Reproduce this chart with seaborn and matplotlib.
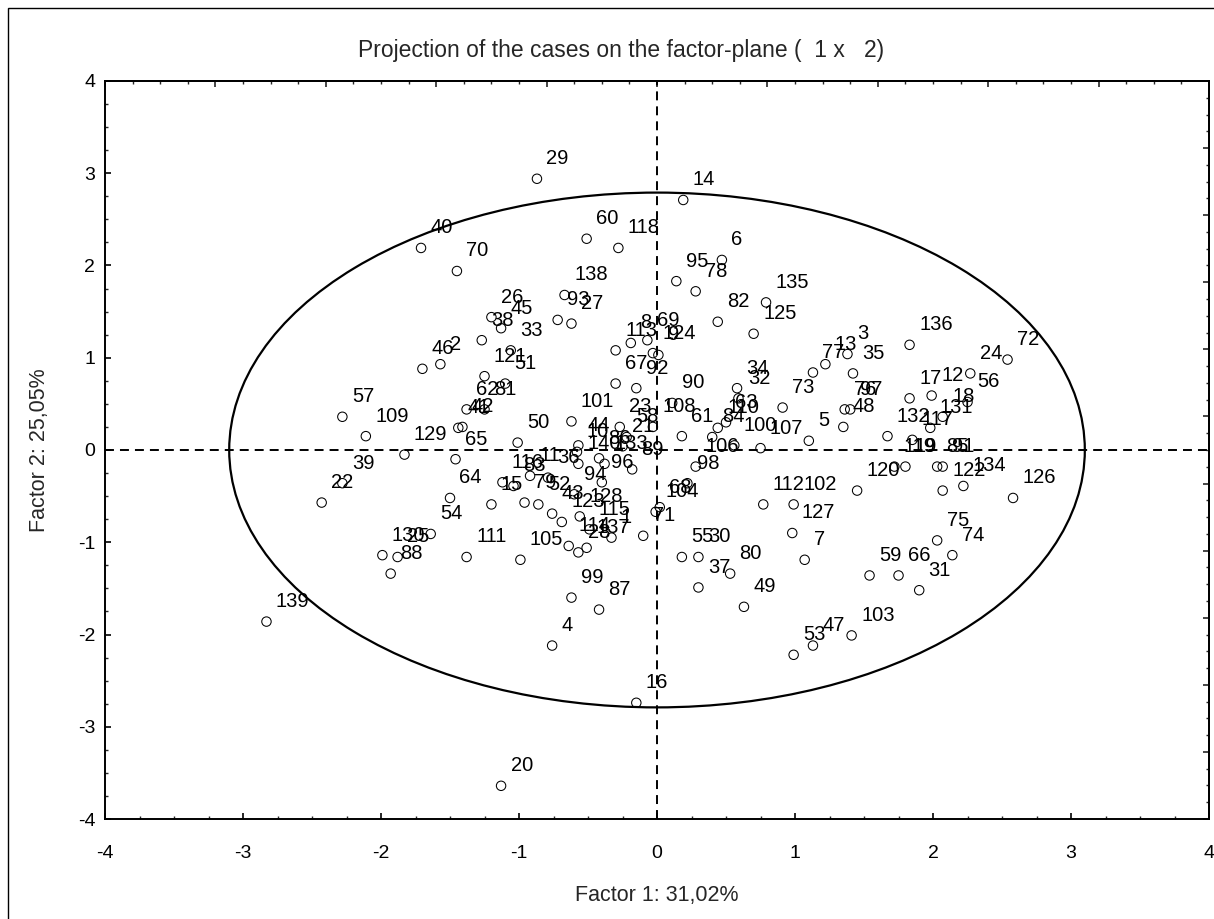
import matplotlib
matplotlib.use("Agg")
import matplotlib.pyplot as plt
import seaborn as sns
import pandas as pd
import numpy as np
from matplotlib.patches import Ellipse, Rectangle
from matplotlib.ticker import FixedLocator

# ---------------- data ----------------
case_labels = [
    "1", "2", "3", "4", "5", "6", "7", "8", "9", "10",
    "11", "12", "13", "14", "15", "16", "17", "18", "19", "20",
    "21", "22", "23", "24", "25", "26", "27", "28", "29", "30",
    "31", "32", "33", "34", "35", "36", "37", "38", "39", "40",
    "41", "42", "43", "44", "45", "46", "47", "48", "49", "50",
    "51", "52", "53", "54", "55", "56", "57", "58", "59", "60",
    "61", "62", "63", "64", "65", "66", "67", "68", "69", "70",
    "71", "72", "73", "74", "75", "76", "77", "78", "79", "80",
    "81", "82", "83", "84", "85", "86", "87", "88", "89", "90",
    "91", "92", "93", "94", "95", "96", "97", "98", "99", "100",
    "101", "102", "103", "104", "105", "106", "107", "108", "109", "110",
    "111", "112", "113", "114", "115", "116", "117", "118", "119", "120",
    "121", "122", "123", "124", "125", "126", "127", "128", "129", "130",
    "131", "132", "133", "134", "135", "136", "137", "138", "139", "140",
]

factor1 = [
    -0.33, -1.57, 1.38, -0.76, 1.10, 0.47, 1.07, -0.19, 0.01, -0.58,
    -0.92, 1.99, 1.22, 0.19, -1.20, -0.15, 1.83, 2.07, 1.80, -1.13,
    -0.25, -2.43, -0.27, 2.27, -1.88, -1.20, -0.62, -0.57, -0.87, 0.30,
    1.90, 0.59, -1.06, 0.58, 1.42, -0.79, 0.30, -1.27, -2.28, -1.71,
    -1.44, -1.41, -0.76, -0.57, -1.13, -1.70, 1.13, 1.35, 0.63, -1.01,
    -1.10, -0.86, 0.99, -1.64, 0.18, 2.25, -2.28, -0.22, 1.54, -0.51,
    0.18, -1.38, 0.50, -1.50, -1.46, 1.75, -0.30, 0.02, -0.07, -1.45,
    -0.10, 2.54, 0.91, 2.14, 2.03, 1.36, 1.13, 0.28, -0.96, 0.53,
    -1.25, 0.44, -1.04, 0.40, 2.03, -0.42, -0.42, -1.93, -0.18, 0.11,
    2.07, -0.15, -0.72, -0.60, 0.14, -0.40, 1.40, 0.22, -0.62, 0.56,
    -0.62, 0.99, 1.41, -0.01, -0.99, 0.28, 0.75, -0.03, -2.11, 0.44,
    -1.38, 0.77, -0.30, -0.64, -0.49, -1.12, 1.85, -0.28, 1.72, 1.45,
    -1.25, 2.07, -0.69, -0.03, 0.70, 2.58, 0.98, -0.56, -1.83, -1.99,
    1.98, 1.67, -0.38, 2.22, 0.79, 1.83, -0.51, -0.67, -2.83, -0.57,
]

factor2 = [
    -0.95, 0.93, 1.04, -2.12, 0.10, 2.06, -1.19, 1.16, 1.03, -0.02,
    -0.28, 0.59, 0.93, 2.71, -0.59, -2.74, 0.56, 0.36, -0.18, -3.64,
    0.04, -0.57, 0.25, 0.83, -1.16, 1.44, 1.37, -1.11, 2.94, -1.16,
    -1.52, 0.56, 1.08, 0.67, 0.83, -0.30, -1.49, 1.19, -0.36, 2.19,
    0.24, 0.25, -0.69, 0.05, 1.32, 0.88, -2.12, 0.25, -1.70, 0.08,
    0.72, -0.59, -2.22, -0.91, -1.16, 0.52, 0.36, 0.14, -1.36, 2.29,
    0.15, 0.44, 0.30, -0.52, -0.10, -1.36, 0.72, -0.62, 1.19, 1.94,
    -0.93, 0.98, 0.46, -1.14, -0.98, 0.44, 0.84, 1.72, -0.57, -1.34,
    0.44, 1.39, -0.39, 0.14, -0.18, -0.09, -1.73, -1.34, -0.21, 0.51,
    -0.18, 0.67, 1.41, -0.48, 1.83, -0.35, 0.44, -0.36, -1.60, 0.05,
    0.31, -0.59, -2.01, -0.67, -1.19, -0.18, 0.02, 0.25, 0.15, 0.24,
    -1.16, -0.59, 1.08, -1.04, -0.86, -0.35, 0.11, 2.19, -0.18, -0.44,
    0.80, -0.44, -0.78, 1.05, 1.26, -0.52, -0.90, -0.72, -0.05, -1.14,
    0.24, 0.15, -0.15, -0.39, 1.60, 1.14, -1.06, 1.68, -1.86, -0.15,
]

title_text = "Projection of the cases on the factor-plane (  1 x   2)"
x_label = "Factor 1: 31,02%"
y_label = "Factor 2: 25,05%"
x_tick_values = [-4, -3, -2, -1, 0, 1, 2, 3, 4]
y_tick_values = [-4, -3, -2, -1, 0, 1, 2, 3, 4]
ellipse_half_width = 3.10
ellipse_half_height = 2.79

# ---------------- style ----------------
sns.set_style("ticks")
plt.rcParams["font.family"] = ["Liberation Sans", "DejaVu Sans"]

fig = plt.figure(figsize=(12.14, 9.19), dpi=100)
fig.patch.set_facecolor("white")
ax = fig.add_axes([0.0865, 0.1088, 0.9094, 0.8031])

df = pd.DataFrame({"case": case_labels, "f1": factor1, "f2": factor2})

# reference lines and ellipse
ax.axhline(0, color="black", lw=1.4, ls=(0, (4.6, 3.1)), zorder=1)
ax.axvline(0, color="black", lw=1.4, ls=(0, (4.6, 3.1)), zorder=1)
ax.add_patch(Ellipse((0, 0), 2 * ellipse_half_width, 2 * ellipse_half_height,
                     fill=False, edgecolor="black", lw=1.6, zorder=2))

sns.scatterplot(data=df, x="f1", y="f2", ax=ax, marker="o", s=46,
                facecolor="none", edgecolor="black", linewidth=0.75,
                legend=False, zorder=3)

for lab, xv, yv in zip(df["case"], df["f1"], df["f2"]):
    ax.annotate(lab, (xv, yv), xytext=(6.8, 10.5), textcoords="offset points",
                fontsize=14.5, ha="left", va="baseline", color="black", zorder=4)

ax.set_xlim(-4, 4)
ax.set_ylim(-4, 4)
ax.set_xticks(x_tick_values)
ax.set_yticks(y_tick_values)
ax.set_xticklabels([str(v) for v in x_tick_values])
ax.set_yticklabels([str(v) for v in y_tick_values])
ax.xaxis.set_minor_locator(FixedLocator(np.arange(-4, 4.001, 0.25)))
ax.yaxis.set_minor_locator(FixedLocator(np.arange(-4, 4.001, 0.25)))
ax.tick_params(axis="both", which="major", direction="in", length=4.2, width=1.2,
               labelsize=14, colors="black")
ax.tick_params(axis="both", which="minor", direction="in", length=2.2, width=1.0)
ax.tick_params(axis="x", which="major", pad=19)
ax.tick_params(axis="y", which="major", pad=7)

for sp in ax.spines.values():
    sp.set_visible(True)
    sp.set_linewidth(1.4)
    sp.set_color("black")

# mirrored top / right tick marks (no labels)
top = ax.secondary_xaxis("top")
top.set_xticks(np.arange(-4, 4.001, 0.8))
top.xaxis.set_minor_locator(FixedLocator(np.arange(-4, 4.001, 0.2)))
top.tick_params(which="major", direction="in", length=4.2, width=1.2, labeltop=False)
top.tick_params(which="minor", direction="in", length=2.2, width=1.0)
top.spines["top"].set_linewidth(1.4)

right = ax.secondary_yaxis("right")
right.set_yticks(np.linspace(-4, 4, 12))
right.yaxis.set_minor_locator(FixedLocator(np.linspace(-4, 4, 45)))
right.tick_params(which="major", direction="in", length=4.2, width=1.2, labelright=False)
right.tick_params(which="minor", direction="in", length=2.2, width=1.0)
right.spines["right"].set_linewidth(1.4)

ax.set_xlabel(x_label, fontsize=15.5)
ax.set_ylabel(y_label, fontsize=15.5)
ax.xaxis.set_label_coords(0.5, -0.089)
ax.yaxis.set_label_coords(-0.05, 0.5)

fig.text(621 / 1214, 1 - 50 / 919, title_text, ha="center", va="center", fontsize=16.5)

# outer frame of the graph window
fig.patches.append(Rectangle((8 / 1214, -0.05), 1.2, (919 - 8) / 919 + 0.05,
                             transform=fig.transFigure, fill=False,
                             edgecolor="black", lw=1.0))

fig.savefig("out.png", dpi=100, facecolor="white")
